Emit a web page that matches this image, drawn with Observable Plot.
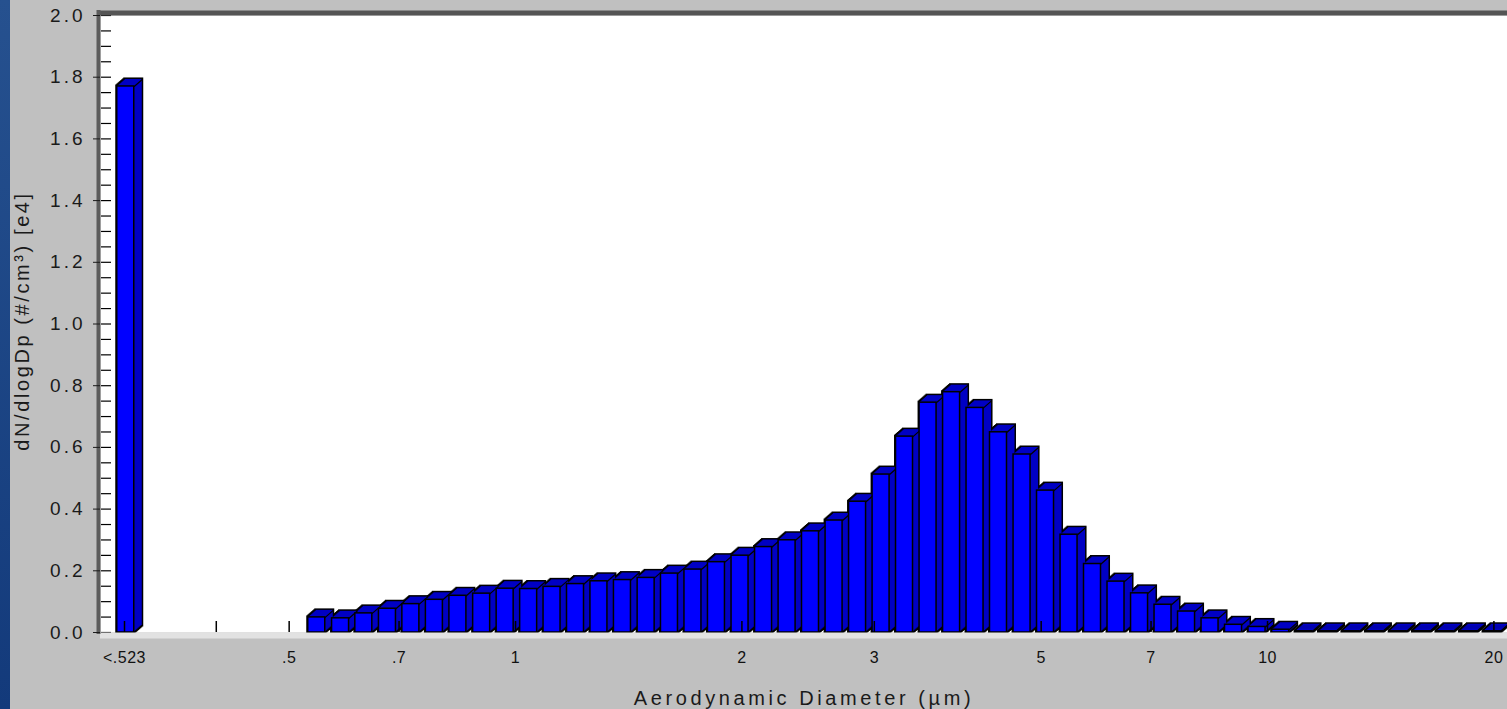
<!DOCTYPE html>
<html><head><meta charset="utf-8">
<script src="https://cdn.jsdelivr.net/npm/d3@7"></script>
<script src="https://cdn.jsdelivr.net/npm/@observablehq/plot@0.6"></script>
<style>
html,body{margin:0;padding:0;width:1507px;height:709px;overflow:hidden;}
body{background:#c0c0c0;position:relative;font-family:"Liberation Sans",Arial,sans-serif;}
#strip{position:absolute;left:0;top:0;width:10px;height:709px;background:linear-gradient(#26518f,#133a7b);}
#chart{position:absolute;left:0;top:0;}
#chart svg{background:transparent;}
#chart [aria-label="y-axis tick label"] text{letter-spacing:3px;}
#chart .ytitle text{letter-spacing:2.6px;}
#chart .xtitle text{letter-spacing:3.6px;}
#chart .xticks text{letter-spacing:0.5px;}
</style></head><body><div id="strip"></div><div id="chart"></div>
<script>
// Underflow channel (<0.523 µm), drawn at the left of the axis
const underflowLabel = "<.523";
const underflowDiameter = 0.302;
const underflowValue = 1.77;

// APS channel midpoints (µm), 32 channels per decade
const diameters = [0.542,0.583,0.626,0.673,0.723,0.777,0.835,0.898,0.965,1.037,
  1.114,1.197,1.286,1.382,1.486,1.596,1.715,1.843,1.981,2.129,
  2.288,2.458,2.642,2.839,3.051,3.278,3.523,3.786,4.068,4.371,
  4.698,5.048,5.425,5.829,6.264,6.732,7.234,7.774,8.354,8.977,
  9.647,10.37,11.14,11.97,12.86,13.82,14.86,15.96,17.15,18.43,19.81];

// dN/dlogDp (#/cm³) [e4]
const concentrations = [0.049,0.046,0.062,0.077,0.092,0.106,0.119,0.126,0.142,0.141,
  0.148,0.157,0.166,0.170,0.177,0.191,0.204,0.228,0.249,0.277,
  0.299,0.328,0.363,0.424,0.512,0.635,0.745,0.779,0.728,0.649,
  0.577,0.460,0.317,0.222,0.165,0.127,0.090,0.068,0.046,0.025,
  0.018,0.009,0.004,0.004,0.004,0.004,0.004,0.004,0.004,0.004,0.004];

const xTickValues = [0.302, 0.4, 0.5, 0.7, 1, 2, 3, 5, 7, 10, 20];
const xTickLabels = ["<.523", "", ".5", ".7", "1", "2", "3", "5", "7", "10", "20"];
const yTickValues = [0, 0.2, 0.4, 0.6, 0.8, 1.0, 1.2, 1.4, 1.6, 1.8, 2.0];
const yMinorTicks = d3.range(0, 2.0001, 0.05);
const xDomain = [0.2806, 20.85];
const yDomain = [0, 2.0];
const xTitle = "Aerodynamic Diameter (µm)";
const yTitle = "dN/dlogDp (#/cm³) [e4]";

const channelRatio = Math.pow(10, 1 / 32);
const rows = [{d: underflowDiameter, v: underflowValue, label: underflowLabel}]
  .concat(diameters.map((d, i) => ({d, v: concentrations[i], label: String(d)})));
const xTicks = xTickValues.map((d, i) => ({d, label: xTickLabels[i]}));

const lo = r => r.d / Math.sqrt(channelRatio);
const hi = r => r.d * Math.sqrt(channelRatio);
const barOpts = {x1: lo, x2: hi, y1: 0, y2: "v", insetLeft: 4.5, insetRight: 2};
const depthX = 8, depthY = 7, steps = 8;
const sweep = d3.range(0, steps + 1);

const marks = [
  Plot.frame({fill: "white"}),
  Plot.ruleY(yMinorTicks, {stroke: "#000", strokeWidth: 1.2, insetLeft: 1, insetRight: 1396}),
  // black silhouette of the extruded bars
  ...sweep.map(k => Plot.rect(rows, {...barOpts, dx: k * depthX / steps, dy: -k * depthY / steps, fill: "black", stroke: "black", strokeWidth: 3})),
  // dark-blue top and side faces
  ...sweep.slice(1).map(k => Plot.rect(rows, {...barOpts, dx: k * depthX / steps, dy: -k * depthY / steps, fill: "#0000c4"})),
  // edge between top and side faces
  Plot.vector(rows, {x: hi, y: "v", dx: -2, anchor: "start", length: Math.hypot(depthX, depthY), rotate: Math.atan2(depthX, depthY) * 180 / Math.PI, stroke: "black", strokeWidth: 1.2,
    shape: {draw(context, l) { context.moveTo(0, 0); context.lineTo(0, -l); }}}),
  // front faces
  Plot.rect(rows, {...barOpts, fill: "#0000ff", stroke: "black", strokeWidth: 1.5}),
  Plot.ruleX(xTickValues, {stroke: "black", strokeWidth: 1.5, insetTop: 606}),
  Plot.ruleY([0], {stroke: "#e2e2e2", strokeWidth: 6, dy: 3}),
  Plot.ruleY([2], {stroke: "#555555", strokeWidth: 5, dy: -2.5}),
  Plot.ruleX([xDomain[0]], {stroke: "#5c5c5c", strokeWidth: 4, dx: -2, insetBottom: -2, insetTop: -5}),
  Plot.axisY({ticks: yTickValues, tickSize: 7, tickPadding: 8, tickFormat: d3.format(".1f"), fontSize: 19, color: "#1a1a1a", label: null}),
  Plot.text(xTicks, {x: "d", text: "label", frameAnchor: "bottom", lineAnchor: "middle", textAnchor: "middle", dy: 25, fontSize: 16, fill: "#111", className: "xticks"}),
  Plot.text([xTitle], {frameAnchor: "bottom", lineAnchor: "middle", textAnchor: "middle", dy: 66, fontSize: 20, fill: "#1a1a1a", className: "xtitle"}),
  Plot.text([yTitle], {frameAnchor: "left", rotate: -90, textAnchor: "middle", lineAnchor: "middle", dx: -78, dy: -3, fontSize: 20, fill: "#1a1a1a", className: "ytitle"})
];

const chart = Plot.plot({
  width: 1507,
  height: 709,
  marginLeft: 100,
  marginRight: 0,
  marginTop: 15,
  marginBottom: 77,
  style: {background: "transparent", fontFamily: "'Liberation Sans', Arial, sans-serif"},
  x: {type: "log", domain: xDomain, axis: null},
  y: {domain: yDomain, axis: null},
  marks
});
document.getElementById("chart").append(chart);
</script>
</body></html>
